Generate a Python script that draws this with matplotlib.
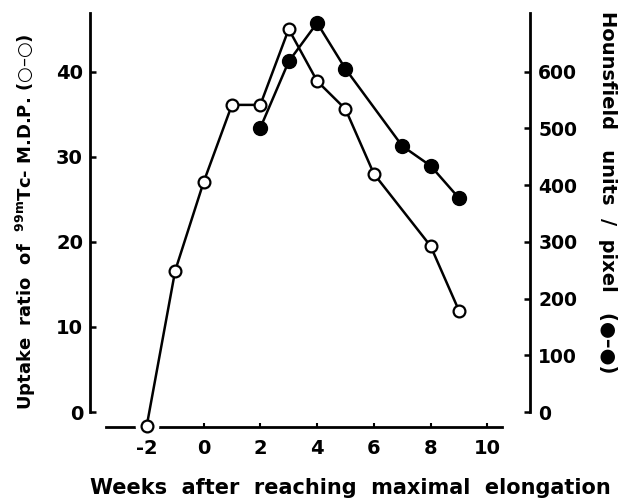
import matplotlib
matplotlib.use("Agg")
import matplotlib.pyplot as plt

# open circles: uptake ratio (left axis)
weeks_open = [-2, -1, 0, 1, 2, 3, 4, 5, 6, 8, 9]
uptake = [-1.6, 16.6, 27.0, 36.1, 36.1, 45.0, 38.9, 35.6, 28.0, 19.5, 11.9]

# filled circles: Hounsfield units / pixel (right axis)
weeks_filled = [2, 3, 4, 5, 7, 8, 9]
hounsfield = [501, 618, 686, 605, 469, 434, 377]

xticks = [-2, 0, 2, 4, 6, 8, 10]
left_ticks = [0, 10, 20, 30, 40]
right_ticks = [0, 100, 200, 300, 400, 500, 600]

plt.rcParams['font.family'] = ['DejaVu Sans']
plt.rcParams['font.weight'] = 'bold'

fig = plt.figure(figsize=(6.2, 5.0), dpi=100)
ax = fig.add_axes([90/620, 1 - 427/500, 440/620, 414/500])
ax2 = ax.twinx()

ylo, yhi = -1.76, 46.9
ax.set_xlim(-4.0, 11.5)
ax.set_ylim(ylo, yhi)
ax2.set_ylim(ylo * 15, yhi * 15)

lw = 1.8
ax.plot(weeks_open, uptake, color='black', lw=lw, marker='o', ms=8.5,
        mfc='white', mec='black', mew=1.6, clip_on=False, zorder=5)
# white halo around the first point where it sits on the axis line
ax.plot(weeks_open[0], uptake[0], 'o', ms=16, color='white', clip_on=False, zorder=4)
ax2.plot(weeks_filled, hounsfield, color='black', lw=lw, marker='o', ms=10,
         mfc='black', mec='black', clip_on=False, zorder=5)

for a in (ax, ax2):
    a.spines['top'].set_visible(False)
    for s in a.spines.values():
        s.set_linewidth(2.0)

ax.spines['right'].set_visible(False)
ax2.spines['left'].set_visible(False)
ax2.spines['bottom'].set_visible(False)
ax.spines['left'].set_bounds(0, yhi)
ax2.spines['right'].set_bounds(0, yhi * 15)
ax.spines['bottom'].set_bounds(-3.45, 10.5)

ax.set_xticks(xticks)
ax.set_xticklabels([str(t) for t in xticks])
ax.set_yticks(left_ticks)
ax2.set_yticks(right_ticks)

ax.tick_params(axis='x', direction='in', length=3, width=1.5, pad=9, labelsize=14)
ax.tick_params(axis='y', direction='in', length=4, width=1.8, pad=5, labelsize=14)
ax2.tick_params(axis='y', direction='in', length=4, width=1.8, pad=6, labelsize=13.5)
for lab in ax.get_xticklabels() + ax.get_yticklabels() + ax2.get_yticklabels():
    lab.set_fontweight('bold')

fig.text(350/620, 1 - 488/500, "Weeks  after  reaching  maximal  elongation",
         ha='center', va='center', fontsize=15, fontweight='bold')
fig.text(26/620, 1 - 222/500,
         r"Uptake  ratio  of  $^{\mathbf{99m}}$Tc- M.D.P. (○–○)",
         ha='center', va='center', rotation=90, fontsize=13, fontweight='bold')
fig.text(607/620, 1 - 192/500, "Hounsfield   units  /  pixel   (●–●)",
         ha='center', va='center', rotation=-90, fontsize=14, fontweight='bold')

fig.savefig("out.png", dpi=100)
